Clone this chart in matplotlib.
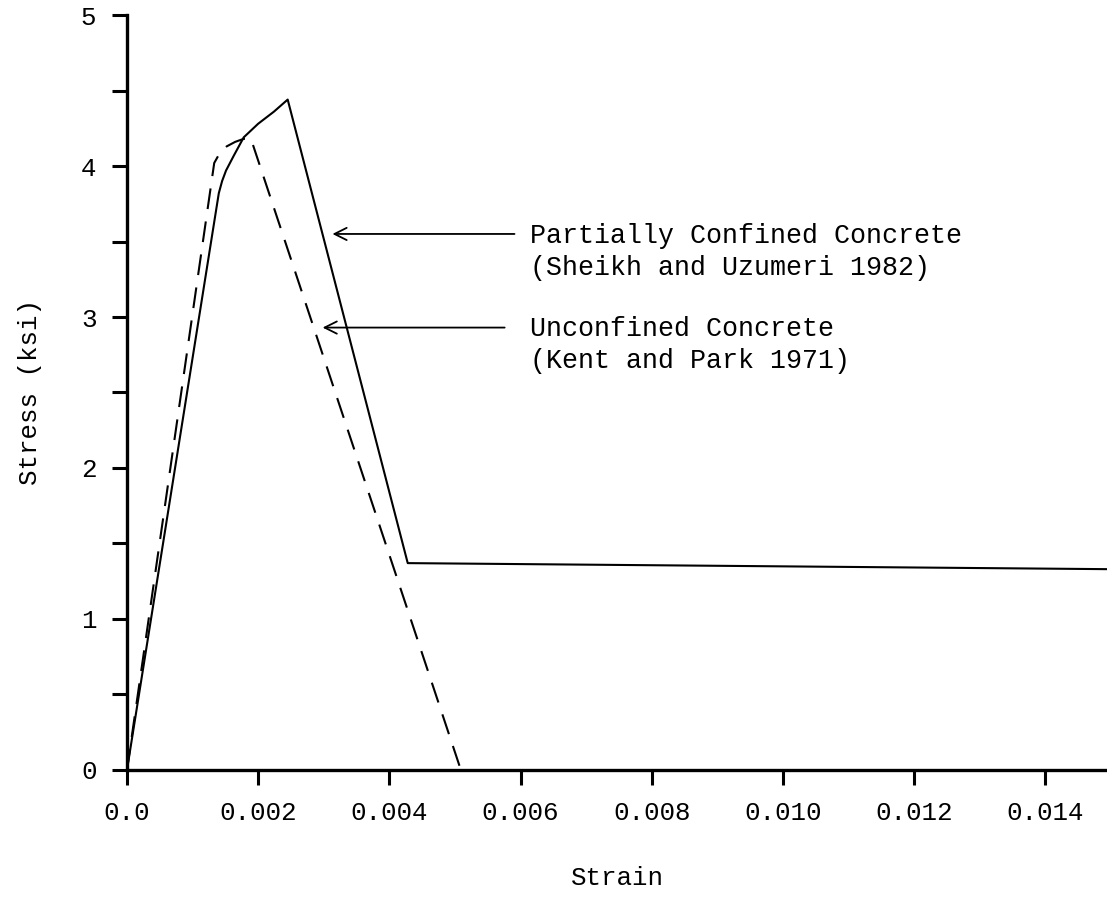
import numpy as np
import matplotlib
matplotlib.use("Agg")
import matplotlib.pyplot as plt
from matplotlib.ticker import MultipleLocator, FixedLocator

# Partially confined concrete (Sheikh and Uzumeri 1982)
confined_strain = [0.0, 0.00140, 0.00145, 0.00151, 0.00163, 0.00178, 0.00200, 0.00224, 0.00245, 0.00428, 0.01494]
confined_stress = [0.0, 3.82, 3.90, 3.97, 4.07, 4.19, 4.28, 4.36, 4.44, 1.37, 1.33]

# Unconfined concrete (Kent and Park 1971)
unconfined_strain = [0.0, 0.00133, 0.00142, 0.00152, 0.00165, 0.00178, 0.00189, 0.00509]
unconfined_stress = [0.0, 4.02, 4.09, 4.13, 4.16, 4.18, 4.18, 0.0]

xticks = [0.0, 0.002, 0.004, 0.006, 0.008, 0.010, 0.012, 0.014]
xtick_labels = ["0.0", "0.002", "0.004", "0.006", "0.008", "0.010", "0.012", "0.014"]
yticks = [0, 1, 2, 3, 4, 5]

plt.rcParams['font.family'] = ['Liberation Mono', 'DejaVu Sans Mono']

fig = plt.figure(figsize=(11.07, 9.05), dpi=100)
ax = fig.add_axes([0.1147, 0.1492, 0.8853, 0.8342])

ax.plot(confined_strain, confined_stress, color='black', lw=1.5)
ax.plot(unconfined_strain, unconfined_stress, color='black', lw=1.5, dashes=(10, 6))

ax.set_xlim(0, 0.01494)
ax.set_ylim(0, 5)

ax.spines['top'].set_visible(False)
ax.spines['right'].set_visible(False)
ax.spines['left'].set_linewidth(2.4)
ax.spines['bottom'].set_linewidth(2.4)

ax.xaxis.set_major_locator(FixedLocator(xticks))
ax.set_xticklabels(xtick_labels)
ax.yaxis.set_major_locator(FixedLocator(yticks))
ax.yaxis.set_minor_locator(MultipleLocator(0.5))
ax.tick_params(axis='both', which='both', direction='out', length=11, width=2.2,
               labelsize=18.6)
ax.tick_params(axis='x', pad=11)
ax.tick_params(axis='y', pad=11)

ax.set_xlabel("Strain", fontsize=18.6, labelpad=30)
ax.set_ylabel("Stress (ksi)", fontsize=18.6, labelpad=28)

# annotation arrows
arrow = dict(arrowstyle='->', color='black', lw=1.3, mutation_scale=22)
ax.annotate("", xy=(0.00309, 3.55), xytext=(0.00595, 3.55), arrowprops=arrow)
ax.annotate("", xy=(0.00294, 2.93), xytext=(0.00580, 2.93), arrowprops=arrow)

ax.text(0.00615, 3.62, "Partially Confined Concrete\n(Sheikh and Uzumeri 1982)",
        fontsize=19.2, va='top', ha='left', linespacing=1.3)
ax.text(0.00615, 3.005, "Unconfined Concrete\n(Kent and Park 1971)",
        fontsize=19.2, va='top', ha='left', linespacing=1.3)

fig.savefig("out.png", dpi=100, facecolor='white')
